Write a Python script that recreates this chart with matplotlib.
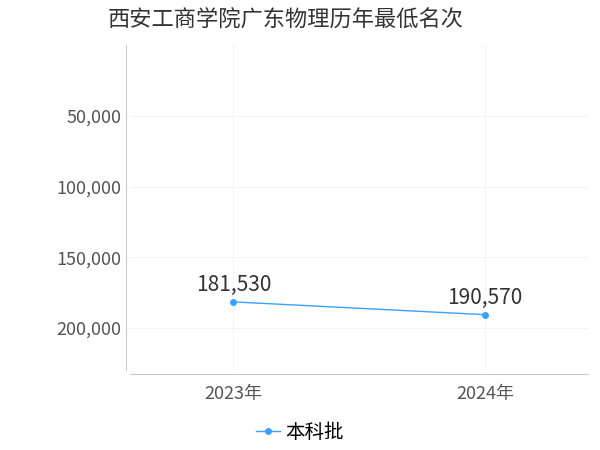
import matplotlib.pyplot as plt

plt.rcParams['font.family'] = ['Noto Sans CJK SC', 'DejaVu Sans']

years = ["2023年", "2024年"]
ranks = [181530, 190570]
series_name = "本科批"

fig = plt.figure(figsize=(6, 4.5), dpi=100)
ax = fig.add_axes([0.217, 0.178, 0.763, 0.722])

x = range(len(years))
ax.plot(x, ranks, color="#3ba1ff", linewidth=1, marker="o", markersize=4, label=series_name)
for xi, v in zip(x, ranks):
    ax.annotate(f"{v:,}", (xi, v), xytext=(0, 4), textcoords="offset points",
                ha="center", va="bottom", fontsize=15, color="#333333")

ax.set_xlim(-0.41, 1.41)
ax.set_ylim(229600, 0)
ax.set_yticks([50000, 100000, 150000, 200000])
ax.set_yticklabels([f"{t:,}" for t in [50000, 100000, 150000, 200000]])
ax.set_xticks(list(x))
ax.set_xticklabels(years)
ax.tick_params(axis="both", labelsize=13, colors="#555555", length=0)
ax.tick_params(axis="x", pad=8)
ax.grid(True, color="#f4f4f4", linewidth=0.8)
for s in ["top", "right"]:
    ax.spines[s].set_visible(False)
ax.spines["left"].set_color("#cccccc")
ax.spines["bottom"].set_color("#cccccc")
ax.spines["left"].set_position(("outward", 3))
ax.spines["bottom"].set_position(("outward", 3))

fig.text(0.18, 0.955, "西安工商学院广东物理历年最低名次", fontsize=16, color="#333333", va="center")
fig.legend(loc="center", bbox_to_anchor=(0.5, 0.04), frameon=False, fontsize=14,
           handlelength=1.2, handletextpad=0.3)

fig.savefig("out.png")
